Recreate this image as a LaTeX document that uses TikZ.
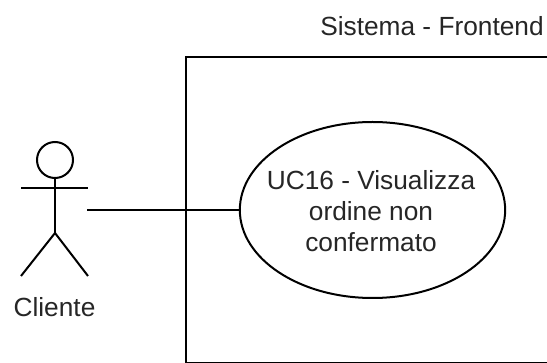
\documentclass[tikz,border=0pt]{standalone}
\usepackage{fontspec}
\setmainfont{Liberation Sans}
\usetikzlibrary{shapes.geometric}
\tikzset{
  ln/.style={draw=black,line width=1.5pt},
  lbl/.style={inner sep=0pt,font=\fontsize{19.7pt}{23.2pt}\selectfont,align=center,text=black!85}
}
\begin{document}
\begin{tikzpicture}[x=0.75pt,y=-0.75pt]
\useasboundingbox (0,0) rectangle (547,363);
\fill[white] (0,0) rectangle (547,363);
\draw[ln] (547,57) -- (186,57) -- (186,363.4) -- (547,363.4);
\node[lbl] (title) at (432,26) {Sistema - Frontend};
\node[ellipse,draw,line width=1.5pt,minimum width=199pt,minimum height=132pt,inner sep=0pt] (uc) at (372.5,210) {};
\node[lbl] (uclbl) at (371,211) {UC16 - Visualizza\\ordine non\\confermato};
\node[circle,draw,line width=1.5pt,minimum size=27pt,inner sep=0pt] (head) at (55,160) {};
\coordinate (hip) at (55,233);
\coordinate (arml) at (21,188);
\coordinate (armr) at (88,188);
\coordinate (footl) at (21,276);
\coordinate (footr) at (88,276);
\coordinate (actor) at (87,210);
\draw[ln] (head.south) -- (hip);
\draw[ln] (arml) -- (armr);
\draw[ln] (footl) -- (hip) -- (footr);
\node[lbl] (cliente) at (54.5,307) {Cliente};
\draw[ln] (actor) -- (uc.west);
\end{tikzpicture}
\end{document}
